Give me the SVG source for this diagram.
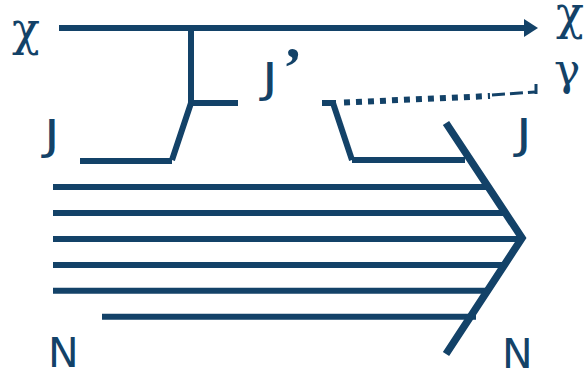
<svg xmlns="http://www.w3.org/2000/svg" width="587" height="375" viewBox="0 0 587 375">
<style>
.l{stroke:#134268;stroke-width:6;fill:none}
.t{fill:#134268;font-family:"DejaVu Sans",sans-serif;font-size:41px}
.g{fill:#134268;font-family:"DejaVu Serif",serif;font-size:46px}
</style>
<rect width="587" height="375" fill="#fff"/>
<g id="connectors">
<path class="l" d="M59 28H526"/>
<path fill="#134268" d="M524 19L538 28L524 37Z"/>
<path class="l" d="M191 28V103"/>
<path class="l" d="M191 103H238"/>
<path class="l" d="M191 103L172 160"/>
<path class="l" d="M80 161H172"/>
<path class="l" d="M322 103H336"/>
<path class="l" d="M333 103L352 160"/>
<path class="l" d="M352 160H465"/>
<path class="l" stroke-dasharray="6 6" d="M344 102.500L490 96"/>
<path class="l" style="stroke-width:3" stroke-dasharray="13 5" d="M492 95L535 92"/>
<path class="l" style="stroke-width:3" d="M536 84V94"/>
<path class="l" d="M53 187H487"/>
<path class="l" d="M53 213H503"/>
<path class="l" d="M53 239H522"/>
<path class="l" d="M53 265H503"/>
<path class="l" d="M53 290.700H487"/>
<path class="l" d="M102 316.700H476"/>
<path class="l" style="stroke-width:7.500" d="M446 123L522 238L446 354"/>
</g>
<g id="chi-in"><text class="g" x="12" y="45">χ</text></g>
<g id="chi-out"><text class="g" x="556" y="29">χ</text></g>
<g id="gamma"><text class="g" style="font-size:44px" x="554" y="85">γ</text></g>
<g id="j-prime"><text class="t" transform="translate(262 92) scale(1.3 1)">J</text><text class="t" x="283" y="87" style="font-size:58px;font-family:'Liberation Serif',serif;font-weight:bold">’</text></g>
<g id="j-in"><text class="t" transform="translate(44 149) scale(1.3 1)">J</text></g>
<g id="j-out"><text class="t" transform="translate(516 148) scale(1.3 1)">J</text></g>
<g id="n-in"><text class="t" x="48" y="367">N</text></g>
<g id="n-out"><text class="t" x="502" y="368">N</text></g>
</svg>
